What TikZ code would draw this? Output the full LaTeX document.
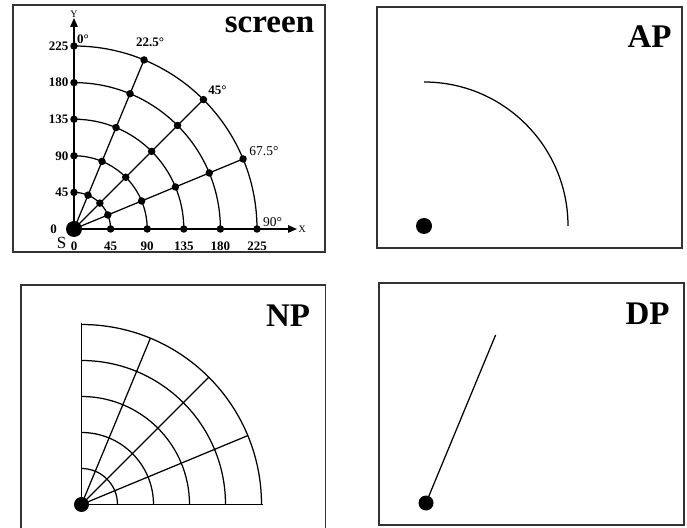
\documentclass[tikz,border=0pt]{standalone}
\usepackage{fontspec}
\setmainfont{Liberation Serif}
\usetikzlibrary{arrows.meta,calc}
\begin{document}
\begin{tikzpicture}[x=1pt,y=1pt,
  panel/.style={draw=black!80, line width=1.4pt},
  ln/.style={line width=1.25pt},
  axisarrow/.style={ln,-{Triangle[length=9pt,width=7.5pt]}},
  bigdot/.style={circle, fill=black, inner sep=0pt, minimum size=16pt},
  meddot/.style={circle, fill=black, inner sep=0pt, minimum size=15pt},
  smalldot/.style={circle, fill=black, inner sep=0pt, minimum size=7.5pt},
  title/.style={font=\fontsize{33}{33}\selectfont\bfseries, anchor=base, inner sep=0pt},
  ticklab/.style={font=\fontsize{13}{13}\selectfont\bfseries, inner sep=0pt},
  anglab/.style={font=\fontsize{13}{13}\selectfont\bfseries, inner sep=0pt},
  anglabr/.style={font=\fontsize{13.5}{13.5}\selectfont, inner sep=0pt},
  axlab/.style={font=\fontsize{10}{10}\selectfont, inner sep=0pt}
]
\useasboundingbox (0,0) rectangle (687,527);

% ---------------- screen panel ----------------
\draw[panel] (13,522) rectangle (325,275);
\coordinate (S) at (74,298);
\coordinate (ytip) at (74,509);
\coordinate (xtip) at (297,298);
\draw[axisarrow] (S) -- (ytip);
\draw[axisarrow] (S) -- (xtip);
\foreach \k in {1,...,5}{
  \pgfmathsetmacro\r{36.6*\k}
  \pgfmathsetlengthmacro\rr{36.6*\k}
  \draw[ln] ($(S)+(90:\r)$) arc[start angle=90,end angle=0,radius=\rr];
}
\foreach \a in {22.5,45,67.5}{
  \draw[ln] (S) -- ($(S)+(\a:183)$);
}
\foreach \k in {1,...,5}{
  \foreach \a [count=\i] in {0,22.5,45,67.5,90}{
    \node[smalldot] (d\k-\i) at ($(S)+(\a:{36.6*\k})$) {};
  }
}
\node[bigdot] (s0) at (S) {};
\foreach \v [count=\k] in {45,90,135,180,225}{
  \node[ticklab, anchor=east] (yl\k) at (68.5,{298+36.6*\k}) {\v};
  \node[ticklab] (xl\k) at ({74+36.6*\k},281) {\v};
}
\node[ticklab, anchor=east] (yl0) at (57,298) {0};
\node[ticklab] (xl0) at (74,281) {0};
\node[font=\fontsize{17}{17}\selectfont, inner sep=0pt] (slab) at (61.5,284.5) {S};
\node[axlab] (ylab) at (74,513) {Y};
\node[axlab, anchor=west] (xlab) at (298.5,297.5) {X};
\node[anglab, anchor=west] (a0) at (77,488) {0°};
\node[anglab] (a1) at (150,484.5) {22.5°};
\node[anglab] (a2) at (217.5,437) {45°};
\node[anglabr] (a3) at (264,375.5) {67.5°};
\node[anglabr] (a4) at (272.5,304.5) {90°};
\node[title] (tscreen) at (269.5,494) {screen};

% ---------------- AP panel ----------------
\draw[panel] (377,520) rectangle (682,279);
\coordinate (A) at (424,301);
\draw[ln] ($(A)+(0,144)$) arc[start angle=90,end angle=0,radius=144pt];
\node[bigdot] (adot) at (A) {};
\node[title] (tap) at (649.5,479) {AP};

% ---------------- NP panel ----------------
\draw[panel] (21,-2) -- (21,242) -- (325.5,242) -- (325.5,-2);
\coordinate (N) at (81.5,22.5);
\draw[ln] (N) -- ($(N)+(0,181.5)$);
\draw[ln] (N) -- ($(N)+(181.5,0)$);
\foreach \k in {1,...,5}{
  \pgfmathsetmacro\r{36*\k}
  \pgfmathsetlengthmacro\rr{36*\k}
  \draw[ln] ($(N)+(90:\r)$) arc[start angle=90,end angle=0,radius=\rr];
}
\foreach \a in {22.5,45,67.5}{
  \draw[ln] (N) -- ($(N)+(\a:180)$);
}
\node[meddot] (ndot) at (N) {};
\node[title] (tnp) at (288,200) {NP};

% ---------------- DP panel ----------------
\draw[panel] (379,244) rectangle (684,2);
\coordinate (D) at (426,24);
\coordinate (dend) at ($(D)+(67.5:182)$);
\draw[ln] (D) -- (dend);
\node[meddot] (ddot) at (D) {};
\node[title] (tdp) at (647.5,202) {DP};
\end{tikzpicture}
\end{document}
